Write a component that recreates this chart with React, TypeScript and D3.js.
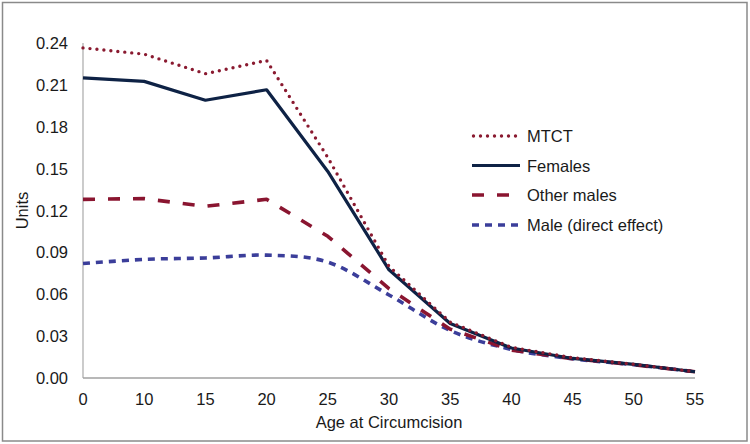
import React from "react";
import * as d3 from "d3";

const categories = ["0", "10", "15", "20", "25", "30", "35", "40", "45", "50", "55"];
const mtct = [0.2365, 0.232, 0.218, 0.2275, 0.158, 0.08, 0.04, 0.022, 0.0145, 0.0098, 0.0045];
const females = [0.215, 0.2125, 0.199, 0.2065, 0.148, 0.0775, 0.039, 0.0215, 0.014, 0.0098, 0.0045];
const otherMales = [0.128, 0.1285, 0.123, 0.128, 0.1015, 0.064, 0.035, 0.02, 0.0138, 0.0095, 0.0045];
const maleDirect = [0.082, 0.085, 0.086, 0.088, 0.083, 0.0595, 0.034, 0.0205, 0.0138, 0.0095, 0.0045];
const yTicks = [0, 0.03, 0.06, 0.09, 0.12, 0.15, 0.18, 0.21, 0.24];

const W = 750;
const H = 444;
const FONT = "'Liberation Sans', Arial, sans-serif";

type Series = {
  name: string;
  values: number[];
  color: string;
  width: number;
  dash: string;
  cap: "round" | "butt";
  smooth: boolean;
};

const series: Series[] = [
  { name: "MTCT", values: mtct, color: "#8a1a30", width: 3.4, dash: "0 7", cap: "round", smooth: false },
  { name: "Females", values: females, color: "#0e2245", width: 3.2, dash: "", cap: "butt", smooth: false },
  { name: "Other males", values: otherMales, color: "#8a1530", width: 3.6, dash: "12 13", cap: "butt", smooth: false },
  { name: "Male (direct effect)", values: maleDirect, color: "#3b3e9a", width: 3.6, dash: "7 6", cap: "butt", smooth: true },
];

export default function App() {
  const x = d3.scalePoint<string>().domain(categories).range([83, 695]);
  const y = d3.scaleLinear().domain([0, 0.24]).range([378, 43]);

  const makeLine = (s: Series) =>
    d3
      .line<number>()
      .x((_, i) => x(categories[i]) as number)
      .y((v) => y(v))
      .curve(s.smooth ? d3.curveCardinal.tension(0) : d3.curveLinear)(s.values) || "";

  const legendX0 = 472;
  const legendX1 = 520;
  const legendY = [136, 165.5, 195, 225];
  const fs = 16.5;

  return (
    <svg
      width={W}
      height={H}
      style={{ position: "absolute", left: 0, top: 0, background: "#fff" }}
      fontFamily={FONT}
    >
      <rect x={0} y={0} width={W} height={H} fill="#fff" />
      <rect x={2.5} y={2.5} width={744.5} height={438.5} fill="none" stroke="#8a8a8a" strokeWidth={1.5} />

      {/* axes */}
      <line x1={83} x2={83} y1={y(0.24)} y2={y(0)} stroke="#b0b0b0" strokeWidth={1.3} />
      <line x1={83} x2={695} y1={y(0)} y2={y(0)} stroke="#a0a0a0" strokeWidth={1.3} />

      {yTicks.map((t) => (
        <text
          key={t}
          x={68}
          y={y(t)}
          textAnchor="end"
          dominantBaseline="central"
          fontSize={fs}
          fill="#1a1a1a"
        >
          {t.toFixed(2)}
        </text>
      ))}
      {categories.map((c) => (
        <text key={c} x={x(c)} y={404.5} textAnchor="middle" fontSize={fs} fill="#1a1a1a">
          {c}
        </text>
      ))}
      <text x={389} y={427.5} textAnchor="middle" fontSize={fs} fill="#1a1a1a">
        Age at Circumcision
      </text>
      <text
        transform={`translate(28,${y(0.12)}) rotate(-90)`}
        textAnchor="middle"
        fontSize={fs}
        fill="#1a1a1a"
      >
        Units
      </text>

      {/* lines: draw bottom-most first */}
      {[3, 2, 1, 0].map((i) => {
        const s = series[i];
        return (
          <path
            key={s.name}
            d={makeLine(s)}
            fill="none"
            stroke={s.color}
            strokeWidth={s.width}
            strokeDasharray={s.dash || undefined}
            strokeLinecap={s.cap}
            strokeLinejoin="round"
          />
        );
      })}

      {/* legend */}
      {series.map((s, i) => (
        <g key={s.name}>
          <line
            x1={legendX0 + (s.cap === "round" ? 1.5 : 0)}
            x2={legendX1}
            y1={legendY[i]}
            y2={legendY[i]}
            stroke={s.color}
            strokeWidth={s.width}
            strokeDasharray={s.dash || undefined}
            strokeLinecap={s.cap}
          />
          <text x={527} y={legendY[i]} dominantBaseline="central" fontSize={fs} fill="#1a1a1a">
            {s.name}
          </text>
        </g>
      ))}
    </svg>
  );
}
